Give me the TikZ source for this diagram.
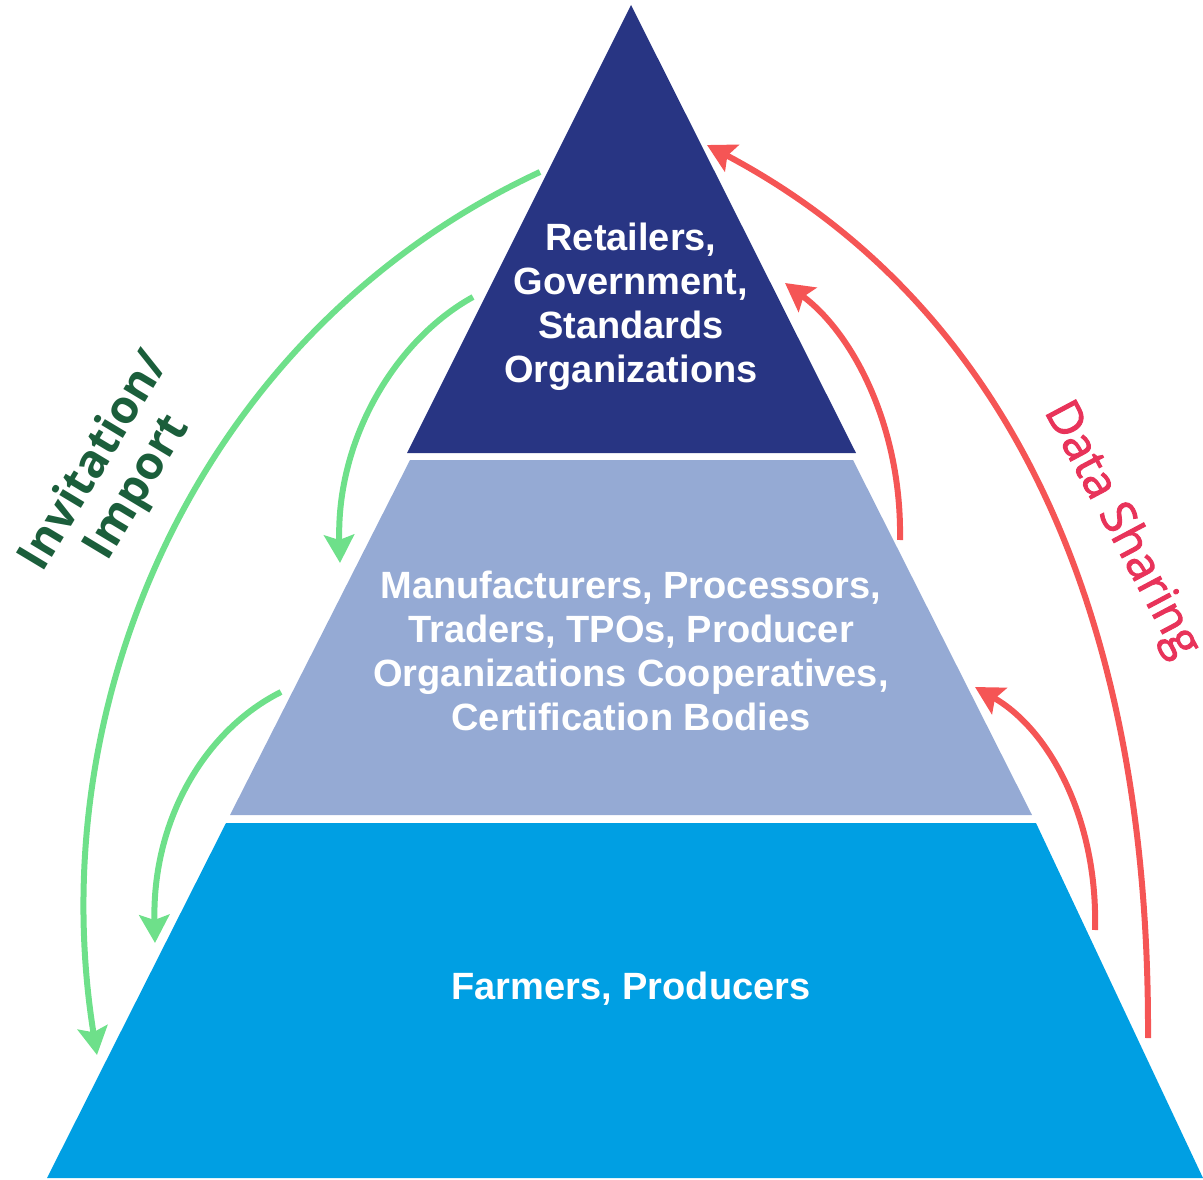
\documentclass[tikz,border=0pt]{standalone}
\usepackage{fontspec}
\setmainfont{Liberation Sans}
\newfontfamily\labfont{Open Sans}
\newfontfamily\dsfont[FakeBold=2]{Open Sans}
\usetikzlibrary{arrows.meta}
\definecolor{navy}{HTML}{283583}
\definecolor{midblue}{HTML}{95AAD4}
\definecolor{skyblue}{HTML}{009FE3}
\definecolor{arrgreen}{HTML}{6EE08A}
\definecolor{darkgreen}{HTML}{1B5E3B}
\definecolor{arrred}{HTML}{F55555}
\definecolor{txtred}{HTML}{E8335A}
\tikzset{
  layertext/.style={text=white, font=\fontsize{38}{44}\selectfont\bfseries, align=center},
  greenarrow/.style={draw=arrgreen, line width=6pt, -{Stealth[length=28pt,width=30pt,inset=5pt]}},
  redarrow/.style={draw=arrred, line width=6pt, -{Stealth[length=28pt,width=30pt,inset=5pt]}},
}
\begin{document}
\begin{tikzpicture}[x=1pt,y=-1pt]
\useasboundingbox (0,0) rectangle (1203,1180);
% layers
\fill[navy] (631,5) -- (856,453) -- (407,453) -- cycle;
\fill[midblue] (410,460) -- (853,460) -- (1032,815) -- (230,815) -- cycle;
\fill[skyblue] (226,823) -- (1036,823) -- (1203,1178) -- (47,1178) -- cycle;
% texts
\node[layertext] (top) at (631,307) {Retailers,\\Government,\\Standards\\Organizations};
\node[layertext] (mid) at (631,651) {Manufacturers, Processors,\\Traders, TPOs, Producer\\Organizations Cooperatives,\\Certification Bodies};
\node[layertext] (bot) at (631,989) {Farmers, Producers};
% labels
\node[text=darkgreen, font=\labfont\fontsize{46}{50}\selectfont\bfseries, align=center, rotate=59] (inv) at (117,475) {Invitation/\\Import};
\node[text=txtred, font=\dsfont\fontsize{47}{50}\selectfont, rotate=-62] (ds) at (1121,530) {Data Sharing};
% coordinates
\coordinate (g1s) at (540,172);
\coordinate (g1e) at (97,1055);
\coordinate (g2s) at (473,297);
\coordinate (g2e) at (340,563);
\coordinate (g3s) at (281,692);
\coordinate (g3e) at (155,943);
\coordinate (r1s) at (1148,1038);
\coordinate (r1e) at (707,145);
\coordinate (r2s) at (900,540);
\coordinate (r2e) at (785,283);
\coordinate (r3s) at (1095,930);
\coordinate (r3e) at (975,687);
% green arrows
\draw[greenarrow] (g1s) .. controls (200,330) and (40,700) .. (g1e);
\draw[greenarrow] (g2s) .. controls (395,340) and (336,440) .. (g2e);
\draw[greenarrow] (g3s) .. controls (205,730) and (152,820) .. (g3e);
% red arrows
\draw[redarrow] (r1s) .. controls (1150,600) and (1000,300) .. (r1e);
\draw[redarrow] (r2s) .. controls (902,430) and (855,335) .. (r2e);
\draw[redarrow] (r3s) .. controls (1098,820) and (1050,730) .. (r3e);
\end{tikzpicture}
\end{document}
